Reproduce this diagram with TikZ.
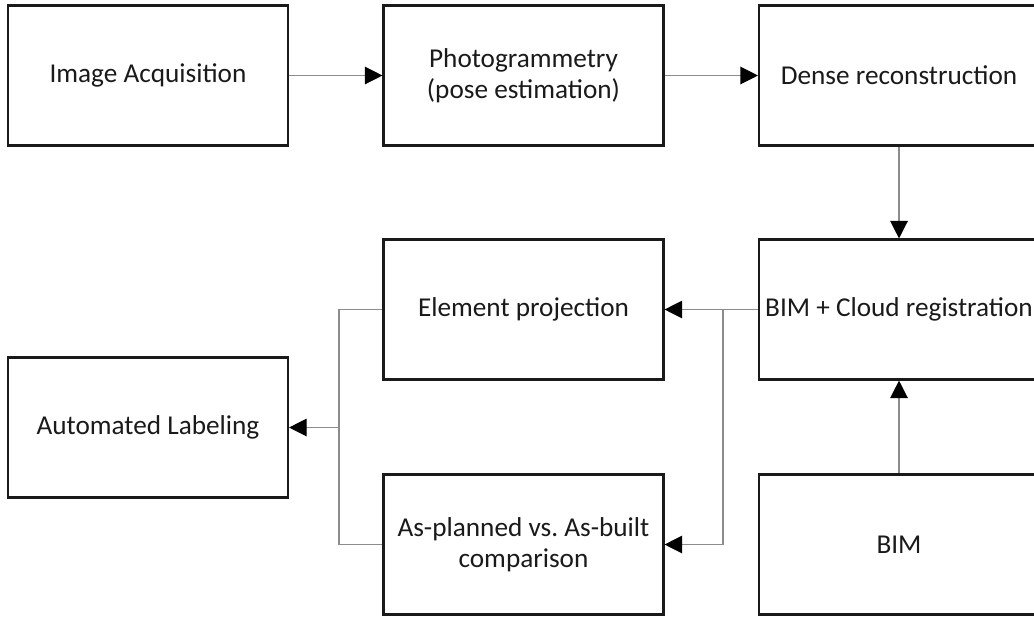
\documentclass[tikz,border=0pt]{standalone}
\usepackage{fontspec}
\setmainfont{Carlito}
\definecolor{flowdark}{HTML}{1A1A1A}
\definecolor{flowgray}{HTML}{8C8C8C}
\usetikzlibrary{arrows.meta,positioning}

\begin{document}
\begin{tikzpicture}[
  stage/.style={draw=flowdark, fill=white, rectangle, minimum width=5.6cm,
                minimum height=2.8cm, align=center, line width=1.2pt,
                font=\fontsize{15.5}{17.5}\selectfont, text=flowdark},
  flow/.style={draw=flowgray, line width=0.7pt,
               -{Triangle[length=10pt,width=10pt,color=black]}},
  link/.style={draw=flowgray, line width=0.7pt}
]
\useasboundingbox (0,0) rectangle (20.68,-12.32);

\node[stage] (acq)   at (2.96,-1.51)   {Image Acquisition};
\node[stage] (photo) at (10.47,-1.51)  {Photogrammetry\\(pose estimation)};
\node[stage] (dense) at (17.98,-1.51)  {Dense reconstruction};
\node[stage] (reg)   at (17.98,-6.19)  {BIM + Cloud registration};
\node[stage] (proj)  at (10.47,-6.19)  {Element projection};
\node[stage] (label) at (2.96,-8.55)   {Automated Labeling};
\node[stage] (comp)  at (10.47,-10.89) {As-planned vs.\ As-built\\comparison};
\node[stage] (bim)   at (17.98,-10.89) {BIM};

%% Main chain
\draw[flow] (acq) -- (photo);
\draw[flow] (photo) -- (dense);
\draw[flow] (dense) -- (reg);
\draw[flow] (bim) -- (reg);

%% Split after registration
\coordinate[left=0.7cm of reg] (split);
\draw[flow] (reg) -- (proj);
\draw[flow] (split) |- (comp.east);

%% Merge into labeling
\coordinate[right=1.0cm of label] (merge);
\draw[link] (proj.west) -| (merge) |- (comp.west);
\draw[flow] (merge) -- (label);

\end{tikzpicture}
\end{document}
